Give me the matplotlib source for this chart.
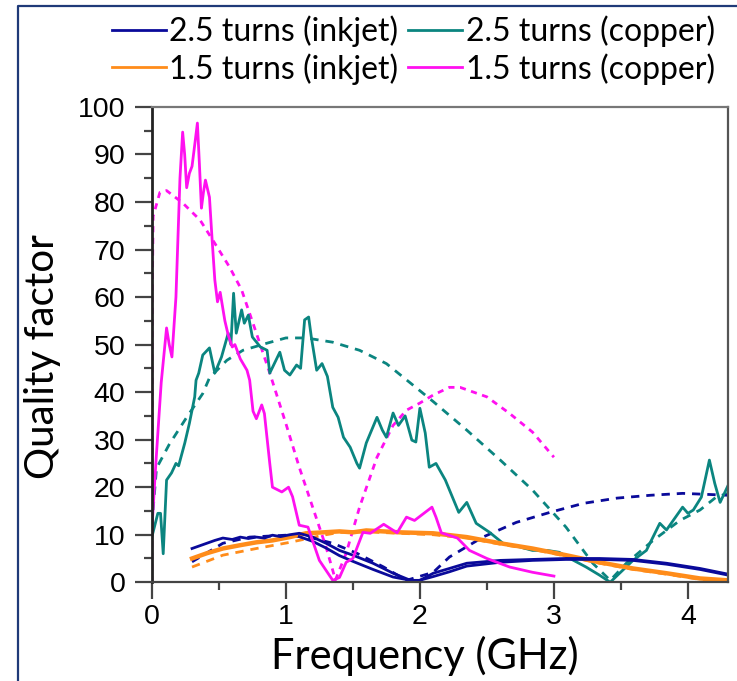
import matplotlib
matplotlib.use("Agg")
import matplotlib.pyplot as plt
from matplotlib.lines import Line2D
from matplotlib.ticker import MultipleLocator

# 1.5 turns copper, measured
cu15_f = [0.0, 0.03, 0.07, 0.11, 0.13, 0.15, 0.18, 0.21, 0.23, 0.245, 0.26, 0.28, 0.30, 0.32,
          0.34, 0.355, 0.37, 0.385, 0.40, 0.43, 0.45, 0.47, 0.49, 0.51, 0.545, 0.57, 0.60, 0.62,
          0.66, 0.71, 0.73, 0.755, 0.78, 0.82, 0.84, 0.88, 0.90, 0.97, 1.02, 1.05, 1.10, 1.165,
          1.25, 1.35, 1.40, 1.45, 1.50, 1.575, 1.63, 1.73, 1.83, 1.90, 1.96, 2.09, 2.12, 2.16,
          2.28, 2.37, 2.50, 2.67, 2.84, 3.0]
cu15_q = [11, 25, 42, 53.5, 50, 47.4, 60, 85, 94.7, 90, 83, 86, 87.5, 92,
          96.6, 88, 78.7, 82, 84.6, 81, 72, 63.6, 59, 61, 55, 52, 49.5, 50,
          47, 44.6, 42.5, 36, 34.4, 37.3, 35.5, 25, 20, 19, 20, 18, 12, 11.6,
          4.6, 0.4, 1, 4.2, 5, 10.5, 10.3, 12.2, 10.4, 13.7, 13, 15.8, 13.7, 10.4,
          9.3, 6.7, 5, 3.2, 2.1, 1.3]
# 1.5 turns copper, model
cu15m_f = [0.0, 0.003, 0.01, 0.06, 0.11, 0.23, 0.36, 0.47, 0.58, 0.67, 0.78, 0.88, 1.0, 1.1,
           1.2, 1.3, 1.37, 1.45, 1.55, 1.68, 1.8, 1.9, 2.0, 2.1, 2.22, 2.3, 2.5, 2.67, 2.84, 3.0]
cu15m_q = [0, 60, 77, 82, 82.4, 79.8, 76.2, 71.3, 66.3, 61.5, 52.4, 44, 33.4, 24.2,
           15.8, 7.4, 0.5, 6.1, 15.8, 26.3, 33, 36.2, 37.7, 39.4, 41, 41, 39, 35.5, 31.6, 26.3]

# 2.5 turns copper, measured
cu25_f = [0.0, 0.045, 0.065, 0.085, 0.11, 0.147, 0.18, 0.2, 0.246, 0.28, 0.32, 0.33, 0.35, 0.38,
          0.43, 0.47, 0.52, 0.57, 0.59, 0.61, 0.63, 0.67, 0.69, 0.72, 0.75, 0.81, 0.86, 0.88,
          0.955, 0.99, 1.03, 1.08, 1.11, 1.14, 1.17, 1.19, 1.23, 1.27, 1.31, 1.35, 1.39, 1.43,
          1.48, 1.53, 1.55, 1.60, 1.68, 1.72, 1.75, 1.80, 1.84, 1.89, 1.94, 1.97, 2.0, 2.04,
          2.07, 2.12, 2.19, 2.29, 2.35, 2.42, 2.52, 2.62, 2.75, 2.84, 2.95, 3.04, 3.12, 3.24,
          3.34, 3.42, 3.49, 3.59, 3.69, 3.79, 3.84, 3.89, 3.96, 4.0, 4.04, 4.10, 4.16, 4.20,
          4.24, 4.3]
cu25_q = [9.5, 14.5, 14.5, 6, 21.5, 23, 25, 24.5, 29.3, 33.4, 39, 42.5, 44, 47.8,
          49.3, 44, 47.4, 52.4, 50, 60.8, 52.4, 57.3, 54.5, 56.2, 51.6, 49.5, 48.8, 44,
          48.4, 44.6, 43.6, 45.7, 45, 55.2, 55.8, 51.6, 44.6, 46, 43.3, 36.8, 34.7, 30.5,
          28.4, 25, 24, 29.3, 34.7, 32, 30.5, 35.6, 33, 35, 29.9, 29.5, 36.6, 31.4,
          24.2, 25, 21.5, 14.7, 16.8, 12.4, 10.5, 8.2, 7.4, 6.7, 6.7, 6.3, 5, 3.2,
          1.5, 0, 1.9, 4.6, 6.7, 12.4, 11, 13, 15.8, 14.5, 15.2, 17.9, 25.7, 20.8,
          16.8, 20.4]
# 2.5 turns copper, model
cu25m_f = [0.0, 0.035, 0.13, 0.26, 0.38, 0.43, 0.56, 0.68, 0.86, 1.0, 1.15, 1.35, 1.55, 1.75,
           1.93, 2.1, 2.35, 2.6, 2.84, 3.09, 3.29, 3.42, 3.54, 3.74, 3.94, 4.09, 4.21, 4.3]
cu25m_q = [12, 24, 29, 34.7, 39.7, 43, 46.7, 48.8, 50.3, 51.4, 51.4, 50.5, 48.8, 46,
           41.9, 38, 32, 25.7, 19.4, 11.6, 4, 0.4, 4, 8.8, 13, 15.2, 17.9, 18.7]

# 2.5 turns inkjet, measured (two traces)
ink25_f = [0.30, 0.35, 0.41, 0.47, 0.53, 0.60, 0.66, 0.72, 0.78, 0.84, 0.90, 0.96, 1.03, 1.10,
           1.20, 1.30, 1.40, 1.50, 1.65, 1.80, 1.93, 2.0, 2.10, 2.22, 2.35, 2.60, 2.84, 3.09,
           3.34, 3.59, 3.84, 4.09, 4.3]
ink25_q = [7.1, 7.6, 8.2, 8.8, 9.3, 9.0, 9.5, 9.2, 9.5, 9.3, 9.9, 9.6, 10, 10.3,
           9.5, 8.2, 6.7, 5.7, 4, 1.9, 0.4, 0.4, 1.9, 2.9, 4, 4.6, 4.8, 5,
           5, 4.8, 4, 2.9, 1.7]
ink25b_f = [1.10, 1.20, 1.30, 1.40, 1.50, 1.65, 1.80, 1.97, 2.10, 2.22, 2.35, 2.60, 2.84, 3.09,
            3.34, 3.59, 3.84, 4.09, 4.3]
ink25b_q = [9.6, 8.6, 7.2, 5.6, 4.4, 2.7, 1.1, 0.2, 1.2, 2.2, 3.4, 4.2, 4.6, 4.8,
            4.8, 4.6, 3.8, 2.7, 1.5]
# 2.5 turns inkjet, model
ink25m_f = [0.30, 0.53, 0.73, 1.0, 1.2, 1.35, 1.53, 1.73, 1.90, 2.10, 2.22, 2.47, 2.72, 2.97,
            3.22, 3.47, 3.72, 3.96, 4.3]
ink25m_q = [4.3, 8.2, 9.5, 9.9, 9.3, 8.2, 6.1, 3.2, 0.4, 2.1, 5.3, 9.5, 12.6, 14.7,
            16.6, 17.7, 18.3, 18.7, 18.3]

# 1.5 turns inkjet, measured
ink15_f = [0.30, 0.41, 0.53, 0.66, 0.78, 0.90, 1.03, 1.15, 1.28, 1.40, 1.50, 1.60, 1.85, 2.10,
           2.35, 2.60, 2.84, 3.09, 3.34, 3.59, 3.84, 4.09, 4.3]
ink15_q = [5, 6.1, 7.1, 7.8, 8.4, 8.8, 9.5, 10.3, 10.5, 10.7, 10.5, 10.9, 10.5, 10.3,
           9.5, 8.2, 7.1, 5.7, 4.2, 2.9, 1.9, 0.8, 0.4]
# 1.5 turns inkjet, model
ink15m_f = [0.30, 0.53, 0.78, 1.03, 1.28, 1.40, 1.60, 1.85, 2.10, 2.35, 2.60, 2.84, 3.09, 3.34,
            3.59, 3.84, 4.09, 4.3]
ink15m_q = [3.2, 5.7, 7.1, 8.4, 9.9, 10.5, 10.6, 10.3, 10.0, 9.3, 8.0, 6.9, 5.5, 4.0,
            2.7, 1.7, 0.6, 0.2]

labels = ["2.5 turns (inkjet)", "1.5 turns (inkjet)", "2.5 turns (copper)", "1.5 turns (copper)"]

c_navy = "#0a0a9a"
c_teal = "#0b8580"
c_orange = "#ff8c1a"
c_mag = "#ff10f0"

fig = plt.figure(figsize=(7.37, 6.81), dpi=100)
ax = fig.add_axes([0.206, 0.145, 0.782, 0.698])

lw = 2.0
ax.plot(cu25m_f, cu25m_q, color=c_teal, lw=lw, dashes=(3, 2.5))
ax.plot(ink25m_f, ink25m_q, color=c_navy, lw=lw, dashes=(3, 2.5))
ax.plot(ink15m_f, ink15m_q, color=c_orange, lw=lw, dashes=(3, 2.5))
ax.plot(cu15m_f, cu15m_q, color=c_mag, lw=lw, dashes=(2.2, 2))
ax.plot(cu25_f, cu25_q, color=c_teal, lw=lw)
ax.plot(ink15_f, ink15_q, color=c_orange, lw=3.2)
ax.plot(ink25_f, ink25_q, color=c_navy, lw=lw)
ax.plot(ink25b_f, ink25b_q, color=c_navy, lw=lw)
ax.plot(cu15_f, cu15_q, color=c_mag, lw=lw)

ax.set_xlim(0, 4.3)
ax.set_ylim(0, 100)
ax.xaxis.set_major_locator(MultipleLocator(1))
ax.xaxis.set_minor_locator(MultipleLocator(0.5))
ax.yaxis.set_major_locator(MultipleLocator(10))
ax.yaxis.set_minor_locator(MultipleLocator(5))
ax.tick_params(which="major", direction="out", length=12, width=1.6, color="#444444",
               labelsize=20.5)
ax.tick_params(axis="x", which="major", pad=4)
ax.tick_params(axis="y", which="major", pad=7)
ax.tick_params(which="minor", direction="out", length=6, width=1.6, color="#444444")
for lab in ax.get_xticklabels() + ax.get_yticklabels():
    lab.set_family(["Liberation Sans", "DejaVu Sans"])
ax.spines["left"].set_linewidth(2)
ax.spines["left"].set_color("#222222")
ax.spines["bottom"].set_linewidth(1.6)
ax.spines["bottom"].set_color("#444444")
ax.spines["top"].set_linewidth(1.6)
ax.spines["top"].set_color("#777777")
ax.spines["right"].set_linewidth(1.6)
ax.spines["right"].set_color("#555555")

label_font = ["Lato", "DejaVu Sans"]
ax.set_xlabel("Frequency (GHz)", fontsize=30, family=label_font, labelpad=4)
ax.set_ylabel("Quality factor", fontsize=29, family=label_font, labelpad=12)
ax.xaxis.label.set_x(0.474)
ax.yaxis.label.set_y(0.474)

handles = [Line2D([], [], color=c, lw=2) for c in (c_navy, c_orange, c_teal, c_mag)]
fig.legend(handles, labels, ncol=2, loc="upper right", bbox_to_anchor=(1.0, 1.01),
           frameon=False, prop={"family": label_font, "size": 23},
           handlelength=1.7, handletextpad=0.1, columnspacing=0.3, labelspacing=0.18,
           borderaxespad=0.3)

# outer frame of the figure panel
fig.add_artist(Line2D([18 / 737, 18 / 737, 1.0], [0.0, 1 - 6 / 681, 1 - 6 / 681],
                      transform=fig.transFigure, color="#1f3a78", lw=1.6))

fig.savefig("out.png", dpi=100)
